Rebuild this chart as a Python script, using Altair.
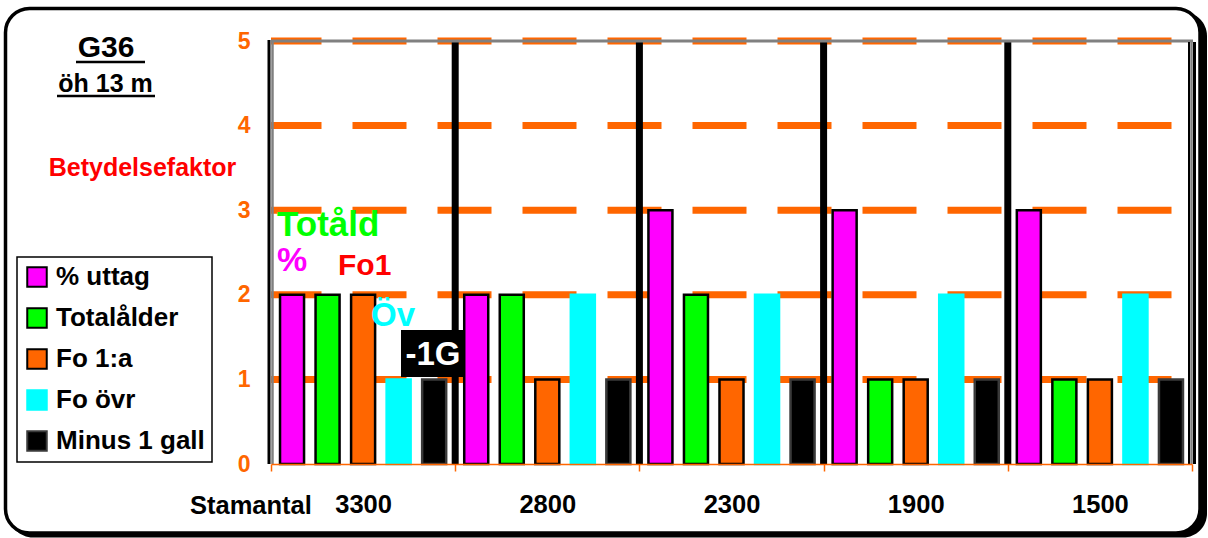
import altair as alt
import pandas as pd

# ---- data -------------------------------------------------------------
GROUPS = ["3300", "2800", "2300", "1900", "1500"]
SERIES = ["\u00a0% uttag", "Totalålder", "\u00a0Fo 1:a", "Fo övr", "Minus 1 gall"]

UTTAG = [2, 2, 3, 3, 3]
TOTALALDER = [2, 2, 2, 1, 1]
FO_FORSTA = [2, 1, 1, 1, 1]
FO_OVR = [1, 2, 2, 2, 2]
MINUS_1_GALL = [1, 1, 1, 1, 1]

Y_TICKS = [0, 1, 2, 3, 4, 5]
GRID_LEVELS = [1, 2, 3, 4, 5]

# ---- styling ----------------------------------------------------------
FILLS = ["#FF00FF", "#00FF00", "#FF6600", "#00FFFF", "#000000"]
OUTLINES = ["#000000", "#000000", "#000000", "#00FFFF", "#3a3a3a"]
ORANGE = "#FF6600"
FONT = "Liberation Sans"

LEFT, TOP = 271, 41
W, H = 921, 423

rows = []
for series, values in zip(SERIES, [UTTAG, TOTALALDER, FO_FORSTA, FO_OVR, MINUS_1_GALL]):
    for g, v in zip(GROUPS, values):
        rows.append({"group": g, "series": series, "value": v})
bars_df = pd.DataFrame(rows)

x_scale = alt.Scale(domain=GROUPS, paddingInner=0, paddingOuter=0)
y_scale = alt.Scale(domain=[0, 5], nice=False)

x_axis = alt.Axis(labelAngle=0, labelFont=FONT, labelFontWeight="bold",
                  labelFontSize=25.5, labelColor="black", labelPadding=21,
                  domainColor=ORANGE, domainWidth=1.5, tickColor=ORANGE,
                  tickWidth=1.5, tickSize=7, tickBand="extent", grid=False, zindex=1)
y_axis = alt.Axis(values=Y_TICKS, domain=False, ticks=False, grid=False,
                  labelFont=FONT, labelFontWeight="bold", labelFontSize=23,
                  labelColor=ORANGE, labelPadding=21, zindex=1)

# dashed orange level lines
grid = alt.Chart(pd.DataFrame({"level": GRID_LEVELS})).mark_rule(
    color=ORANGE, strokeWidth=7, strokeDash=[54, 31], strokeDashOffset=3.5
).encode(
    y=alt.Y("level:Q", scale=y_scale, title=None, axis=y_axis),
    x=alt.value(0), x2=alt.value(W),
)

bars = alt.Chart(bars_df).mark_bar(strokeWidth=2.5).encode(
    x=alt.X("group:N", scale=x_scale, title=None, axis=x_axis),
    xOffset=alt.XOffset("series:N",
                        scale=alt.Scale(domain=SERIES, paddingInner=0.324, paddingOuter=0.254)),
    y=alt.Y("value:Q", scale=y_scale, title=None, axis=y_axis),
    fill=alt.Fill("series:N", scale=alt.Scale(domain=SERIES, range=FILLS),
                  legend=alt.Legend(title=None)),
    stroke=alt.Stroke("series:N", scale=alt.Scale(domain=SERIES, range=OUTLINES),
                      legend=alt.Legend(title=None)),
)

# thick black separators between Stamantal groups
separators = alt.Chart(pd.DataFrame({"group": GROUPS[1:]})).mark_rule(
    color="black", strokeWidth=7
).encode(x=alt.X("group:N", scale=x_scale, bandPosition=0, title=None, axis=x_axis))


def line(x, x2, y, y2, color, width):
    return alt.Chart(alt.Data(values=[{}])).mark_rule(color=color, strokeWidth=width).encode(
        x=alt.value(x), x2=alt.value(x2), y=alt.value(y), y2=alt.value(y2))


def label(text, x, y, size, color, align="left"):
    return alt.Chart(alt.Data(values=[{"t": text}])).mark_text(
        align=align, baseline="alphabetic", font=FONT, fontWeight="bold",
        fontSize=size, color=color
    ).encode(text="t:N", x=alt.value(x - LEFT), y=alt.value(y - TOP))


def box(x, x2, y, y2, fill, radius=0, stroke=None, width=0):
    kw = dict(fill=fill, cornerRadius=radius)
    if stroke:
        kw.update(stroke=stroke, strokeWidth=width)
    return alt.Chart(alt.Data(values=[{}])).mark_rect(**kw).encode(
        x=alt.value(x - LEFT), x2=alt.value(x2 - LEFT),
        y=alt.value(y - TOP), y2=alt.value(y2 - TOP))


# rounded outer border with a drop shadow
shadow = box(9, 1207, 12, 537.5, "black", radius=24)
panel = box(5.5, 1200, 8.5, 533, "white", radius=24, stroke="black", width=3.5)

# plot frame
frame = [
    line(-2, -2, -1, H, "black", 3),
    line(1.5, 1.5, 0, H, "#808080", 2.5),
    line(0, W + 1, 0, 0, "#808080", 3),
    line(W - 3, W - 3, 1, H, "black", 2),
    line(W - 0.5, W - 0.5, 0, H, "#808080", 2.5),
    line(W + 2.5, W + 2.5, 1, H, "black", 3),
]

texts = [
    label("G36", 106, 57, 30, "black", "center"),
    line(76 - LEFT, 145 - LEFT, 62 - TOP, 62 - TOP, "black", 2.5),
    label("öh 13 m", 105.5, 92, 25, "black", "center"),
    line(57 - LEFT, 155 - LEFT, 96 - TOP, 96 - TOP, "black", 2.5),
    label("Betydelsefaktor", 142.5, 176, 25, "#FF0000", "center"),
    label("Stamantal", 190, 514, 25.5, "black"),
    label("Totåld", 277, 236, 35, "#00FF00"),
    label("%", 277, 271, 34, "#FF00FF"),
    label("Fo1", 338, 275, 30, "#FF0000"),
    label("Öv", 371, 326, 33, "#00FFFF"),
    box(401, 465, 330, 377, "black"),
    label("-1G", 433, 365, 33, "white", "center"),
]

chart = alt.layer(shadow, panel, grid, bars, separators, *frame, *texts).properties(
    width=W, height=H,
    padding={"left": LEFT, "top": TOP, "right": 1208 - LEFT - W, "bottom": 538 - TOP - H},
    autosize=alt.AutoSizeParams(type="none"),
).configure_view(stroke=None).configure_legend(
    orient="none", legendX=17 - LEFT, legendY=257 - TOP,
    strokeColor="black", strokeWidth=1.5, fillColor="white", padding=7,
    symbolType="square", symbolSize=380, symbolStrokeWidth=2,
    labelFont=FONT, labelFontWeight="bold", labelFontSize=26, labelColor="black",
    labelOffset=6, rowPadding=13, labelLimit=300,
)

chart.save("out.html", embed_options={"renderer": "svg", "actions": False})
